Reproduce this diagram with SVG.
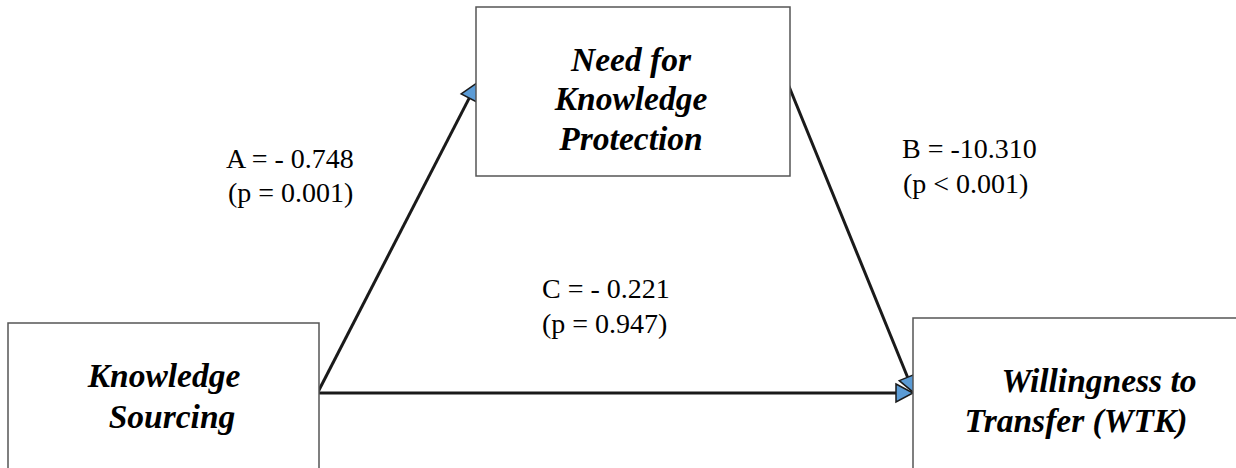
<svg xmlns="http://www.w3.org/2000/svg" width="1236" height="468" viewBox="0 0 1236 468">
<style>
.box{fill:#fff;stroke:#555;stroke-width:1.5}
.nt{font-family:"Liberation Serif","Times New Roman",serif;font-weight:bold;font-style:italic;font-size:33.5px;fill:#000}
.lb{font-family:"Liberation Serif","Times New Roman",serif;font-size:28px;fill:#000}
.cn{stroke:#1a1a1a;stroke-width:3;fill:none;marker-end:url(#ah)}
</style>
<defs>
<marker id="ah" markerUnits="userSpaceOnUse" markerWidth="20" markerHeight="20" refX="0" refY="9" orient="auto" overflow="visible">
<path d="M0,0 L17,9 L0,18 Z" fill="#5B9BD5" stroke="#1a1a1a" stroke-width="1.5" stroke-linejoin="miter"/>
</marker>
</defs>
<rect width="1236" height="468" fill="#fff"/>
<g id="connectors">
<line class="cn" x1="318" y1="392" x2="469.2" y2="98.1"/>
<line class="cn" x1="788" y1="84" x2="907.6" y2="377.2"/>
<line class="cn" x1="318" y1="393" x2="896" y2="393"/>
</g>
<g id="node-nkp">
<rect class="box" x="476" y="7" width="314" height="169"/>
<text class="nt" text-anchor="middle"><tspan x="631" y="71">Need for</tspan><tspan x="631" y="110">Knowledge</tspan><tspan x="631" y="150">Protection</tspan></text>
</g>
<g id="node-ks">
<rect class="box" x="8" y="323" width="311" height="160"/>
<text class="nt" text-anchor="middle"><tspan x="164" y="387">Knowledge</tspan><tspan x="172" y="428">Sourcing</tspan></text>
</g>
<g id="node-wtk">
<rect class="box" x="913" y="318" width="340" height="160"/>
<text class="nt" text-anchor="middle"><tspan x="1099" y="392">Willingness to</tspan><tspan x="1076" y="432">Transfer (WTK)</tspan></text>
</g>
<g id="labels">
<text class="lb"><tspan x="226" y="168">A = - 0.748</tspan><tspan x="228" y="202">(p = 0.001)</tspan></text>
<text class="lb"><tspan x="902" y="158">B = -10.310</tspan><tspan x="903" y="193">(p &lt; 0.001)</tspan></text>
<text class="lb"><tspan x="542" y="298">C = - 0.221</tspan><tspan x="542" y="333">(p = 0.947)</tspan></text>
</g>
</svg>
